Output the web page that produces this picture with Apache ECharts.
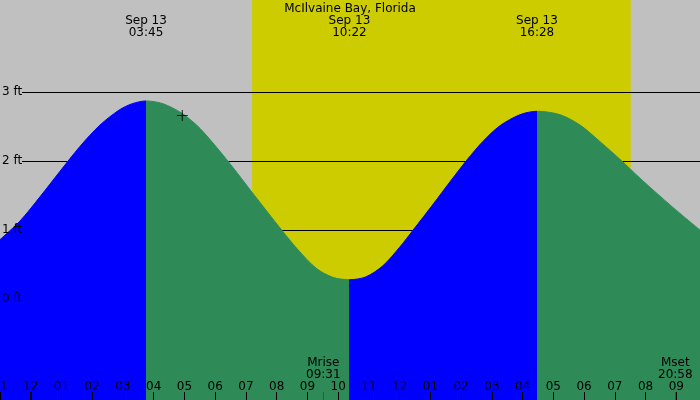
<!DOCTYPE html>
<html>
<head>
<meta charset="utf-8">
<title>McIlvaine Bay, Florida</title>
<script src="https://cdn.jsdelivr.net/npm/echarts@6/dist/echarts.min.js"></script>
<style>
    html, body { margin: 0; padding: 0; }
    #chart { width: 700px; height: 400px; }
</style>
</head>
<body>
<div id="chart"></div>
<script>
// 数据：Sep 13 当天的小时（负数为前一天）
const stationName = 'McIlvaine Bay, Florida';
const dayLabel = 'Sep 13';

const tideHours = [-1.0, -0.35, 0.30, 0.95, 1.60, 2.25, 2.88, 3.30, 3.75,
    4.30, 4.92, 5.51, 6.41, 7.28, 8.16, 8.70, 9.30, 9.85, 10.37,
    10.90, 11.45, 12.00, 12.44, 13.10, 13.64, 14.18, 14.70, 15.26, 15.91, 16.47,
    17.22, 17.87, 18.52, 19.20, 19.82, 20.47, 21.12, 21.77];
const tideFeet = [0.86, 1.13, 1.48, 1.85, 2.21, 2.52, 2.74, 2.83, 2.87,
    2.83, 2.69, 2.47, 2.00, 1.50, 1.00, 0.71, 0.44, 0.31, 0.28,
    0.32, 0.48, 0.75, 1.00, 1.38, 1.70, 2.01, 2.28, 2.51, 2.67, 2.72,
    2.67, 2.52, 2.28, 2.01, 1.75, 1.49, 1.24, 1.00];

// 高低潮时间（第一个为高潮）
const extremeTimes = ['03:45', '10:22', '16:28'];
// 日出日落
const daylight = ['07:12', '19:31'];
// 月出月落
const moonNames = ['Mrise', 'Mset'];
const moonTimes = ['09:31', '20:58'];
// 当前时刻标记 [小时, 英尺]
const nowMark = [4.93, 2.66];

const feetTicks = [0, 1, 2, 3];
const hourTickLabels = ['11', '12', '01', '02', '03', '04', '05', '06', '07', '08', '09', '10',
    '11', '12', '01', '02', '03', '04', '05', '06', '07', '08', '09'];

const hourMin = -1;
const hourMax = 21.77;

function toHours(s) {
    const parts = s.split(':').map(Number);
    return parts[0] + parts[1] / 60;
}

document.addEventListener('DOMContentLoaded', function() {
    const chart = echarts.init(document.getElementById('chart'));

    const extremeHours = extremeTimes.map(toHours);
    const moonHours = moonTimes.map(toHours);

    // 涨潮蓝色，落潮绿色
    const bounds = [null].concat(extremeHours, [null]);
    const pieces = [];
    for (let i = 0; i < bounds.length - 1; i++) {
        const p = { color: i % 2 === 0 ? '#0000ff' : '#2e8b57' };
        if (bounds[i] !== null) p.gte = bounds[i];
        if (bounds[i + 1] !== null) p.lt = bounds[i + 1];
        pieces.push(p);
    }

    const noLine = { show: false, onZero: false };

    const option = {
        backgroundColor: '#c0c0c0',
        animation: false,
        textStyle: { fontFamily: 'DejaVu Sans', fontSize: 12, color: '#000' },
        title: {
            text: stationName,
            left: 'center',
            top: 3,
            padding: 0,
            textStyle: { fontFamily: 'DejaVu Sans', fontSize: 12, fontWeight: 'normal', color: '#000' }
        },
        grid: [
            { left: 0, right: 0, top: 0, bottom: 0, outerBoundsMode: 'none' },
            { left: 22, right: 0, top: 92, height: 207, outerBoundsMode: 'none' }
        ],
        visualMap: {
            show: false,
            type: 'piecewise',
            seriesIndex: 1,
            dimension: 0,
            pieces: pieces
        },
        xAxis: [
            {
                // 小时刻度
                gridIndex: 0, type: 'value', position: 'bottom',
                min: hourMin, max: hourMax, interval: 1, z: 5,
                axisLine: noLine,
                splitLine: { show: false },
                axisTick: { inside: true, length: 8, lineStyle: { color: '#000', width: 1 } },
                axisLabel: {
                    inside: true, margin: 7, color: '#000', fontSize: 12,
                    formatter: v => hourTickLabels[Math.round(v) - hourMin] || ''
                }
            },
            {
                // 顶部高低潮标注
                gridIndex: 0, type: 'value', position: 'top',
                min: hourMin, max: hourMax, z: 5,
                axisLine: noLine,
                splitLine: { show: false },
                axisTick: { show: false },
                axisLabel: {
                    inside: true, margin: 15, color: '#000', fontSize: 12, lineHeight: 12,
                    customValues: extremeHours,
                    formatter: v => {
                        const i = extremeHours.findIndex(h => Math.abs(h - v) < 1e-6);
                        return dayLabel + '\n' + extremeTimes[i];
                    }
                }
            },
            {
                // 月出月落
                gridIndex: 0, type: 'value', position: 'bottom',
                min: hourMin, max: hourMax, z: 6,
                axisLine: noLine,
                splitLine: { show: false },
                axisTick: {
                    inside: true, length: 8, customValues: moonHours,
                    lineStyle: { color: '#ff0000', width: 1 }
                },
                axisLabel: {
                    inside: true, margin: 19, color: '#000', fontSize: 12, lineHeight: 12,
                    customValues: moonHours,
                    formatter: v => {
                        const i = moonHours.findIndex(h => Math.abs(h - v) < 1e-6);
                        return moonNames[i] + '\n' + moonTimes[i];
                    }
                }
            },
            {
                // 午夜粗刻度
                gridIndex: 0, type: 'value', position: 'bottom',
                min: hourMin, max: hourMax, z: 6,
                axisLine: noLine,
                splitLine: { show: false },
                axisTick: {
                    inside: true, length: 8, customValues: [0],
                    lineStyle: { color: '#000', width: 2 }
                },
                axisLabel: { show: false }
            },
            {
                gridIndex: 1, type: 'value', show: false,
                min: hourMin, max: hourMax
            }
        ],
        yAxis: [
            {
                gridIndex: 0, type: 'value',
                min: -1.464, max: 4.333, z: 5,
                axisLine: noLine,
                axisTick: { show: false },
                splitLine: { show: false },
                axisLabel: {
                    inside: true, margin: 2, color: '#000', fontSize: 12,
                    customValues: feetTicks,
                    formatter: '{value} ft'
                }
            },
            {
                gridIndex: 1, type: 'value',
                min: 0, max: 3, interval: 1, z: 2,
                axisLine: noLine,
                axisTick: { show: false },
                axisLabel: { show: false },
                splitLine: { show: true, lineStyle: { color: '#000', width: 1 } }
            }
        ],
        series: [
            {
                // 白天黄色背景
                type: 'line',
                xAxisIndex: 0, yAxisIndex: 0, z: 0,
                data: [],
                markArea: {
                    silent: true,
                    itemStyle: { color: '#cccc00', opacity: 1 },
                    data: [[{ xAxis: toHours(daylight[0]) }, { xAxis: toHours(daylight[1]) }]]
                }
            },
            {
                // 潮汐曲线
                type: 'line',
                xAxisIndex: 0, yAxisIndex: 0, z: 3,
                smooth: 0.3,
                showSymbol: false,
                lineStyle: { width: 1 },
                areaStyle: { opacity: 1, origin: 'start' },
                data: tideHours.map((h, i) => [h, tideFeet[i]])
            },
            {
                // 当前时刻
                type: 'scatter',
                xAxisIndex: 0, yAxisIndex: 0, z: 4,
                symbol: 'path://M0,4.5h10v1h-10zM4.5,0h1v10h-1z',
                symbolSize: 11,
                itemStyle: { color: '#000' },
                data: [nowMark]
            }
        ]
    };

    chart.setOption(option);
});
</script>
</body>
</html>
